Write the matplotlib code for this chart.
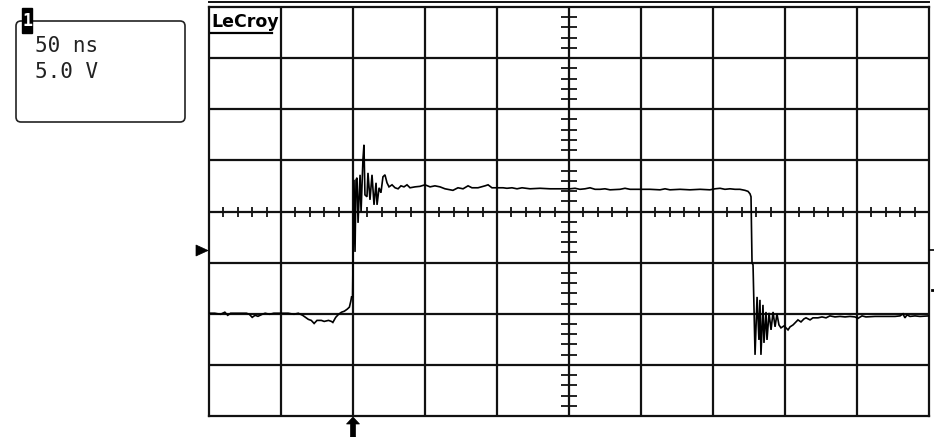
import matplotlib
matplotlib.use("Agg")
import matplotlib.pyplot as plt
from matplotlib.patches import FancyBboxPatch, Polygon, Rectangle
from matplotlib.lines import Line2D
from matplotlib.transforms import IdentityTransform
import numpy as np

# ---- data (time in ns from trigger, voltage in V) ----
time_ns = [
    -100, -96, -92, -89, -87, -85, -80, -74, -72, -70, -68, -66, -63, -61, -58, -55,
    -50, -45, -41, -38, -35, -33, -31, -29, -27, -25, -22, -20, -17, -15, -14, -12,
    -10, -8, -6, -4, -2.5, -1.5, -1, -0.3,
    0.7, 1.4, 2.1, 2.8, 3.5, 4.9, 5.6, 6.9, 7.6, 8.3, 9.7, 10.4, 11.8, 13.2, 14.6,
    16.0, 16.7, 18.1, 19.4, 20.8, 22.2, 23.6, 25.0, 27.1, 29.2, 31.3, 33.3, 35.4,
    37.5, 39.6, 43.1,
    46.5, 50.0, 53.5, 56.9, 60.4, 63.9, 69.4, 72.9, 76.4, 79.9, 82.6, 86.8, 91.7,
    93.8, 96.5, 100.0, 104.2, 106.9, 110.4, 113.9, 117.4, 122.9, 129.9, 136.8,
    143.7, 150.7, 154.2, 157.6, 161.1, 164.6, 168.1, 171.5, 175.0, 178.5, 185.4,
    188.9, 192.4, 199.3, 206.2, 213.2, 216.7, 220.1, 227.1, 234.0, 241.0, 247.9,
    251.4, 254.9, 258.3, 261.8, 265.3, 268.7, 272.2, 274.3, 275.7, 276.4, 277.1,
    277.8, 279.2, 280.6, 281.9, 282.6, 283.3, 284.7, 285.4, 286.8, 287.5, 288.9,
    290.3, 291.7, 293.1, 294.4, 295.8, 297.2, 299.3, 300.7, 302.1, 303.5, 305.6,
    307.6, 309.0, 311.1, 313.2, 314.6, 317.4, 319.4, 322.9, 325.7, 328.5,
    331.2, 334.7, 338.2, 341.7, 345.1, 348.6, 350.7, 353.5, 356.2, 362.5, 369.4,
    376.4, 379.9, 381.9, 383.3, 384.7, 386.8, 390.3, 393.7, 400,
]
volts = [
    -6.2, -6.2, -6.3, -6.1, -6.4, -6.2, -6.2, -6.2, -6.3, -6.6, -6.4, -6.5, -6.3, -6.2, -6.3, -6.2,
    -6.2, -6.2, -6.3, -6.2, -6.4, -6.6, -6.8, -6.9, -7.2, -6.9, -6.9, -7.0, -6.9, -7.0, -7.1, -6.6,
    -6.3, -6.1, -6.0, -5.8, -5.6, -5.0, -4.6, -4.6,
    6.85, -0.2, 6.85, 7.05, 2.64, 7.34, 3.72, 8.81, 10.27, 5.38, 5.19, 7.53, 4.89, 7.34, 4.40,
    6.56, 4.40, 6.07, 5.58, 7.14, 7.34, 6.56, 6.16, 6.36, 6.07, 5.97, 6.26, 6.16,
    6.36, 6.07, 6.16,
    6.21, 6.36, 6.16, 6.26, 6.16, 5.97, 5.82, 6.07, 5.97, 6.26, 6.07, 6.07, 6.26,
    6.36, 6.07, 6.07, 6.07, 6.02, 6.07, 5.97, 6.07, 5.97, 6.02, 5.97,
    5.97, 5.97, 6.02, 5.92, 5.97, 6.07, 5.92, 5.92, 5.97, 5.87, 5.92,
    6.02, 5.92, 5.92, 5.92, 5.87, 5.97, 5.87, 5.92, 5.87, 5.92, 5.87,
    5.97, 6.02, 5.92, 5.97, 5.92, 5.92, 5.82, 5.72, 5.48, 5.19, -1.27,
    -1.47, -10.27, -4.60, -8.81, -4.89, -10.27, -5.38, -9.10, -6.07, -8.81, -6.16,
    -7.83, -6.07, -7.53, -6.26, -7.34, -7.63, -7.44, -7.63, -7.83, -7.53, -7.34,
    -7.05, -6.85, -7.05, -6.75, -6.65, -6.85, -6.65, -6.65, -6.56, -6.65,
    -6.46, -6.56, -6.51, -6.56, -6.51, -6.56, -6.70, -6.46, -6.56, -6.51, -6.51,
    -6.51, -6.46, -6.26, -6.65, -6.36, -6.51, -6.46, -6.51, -6.46,
]

time_div_ns = 50
volt_div = 5
x_range = (-100, 400)
y_range = (-16.25, 23.75)
timebase_label = "50 ns"
vdiv_label = "5.0 V"
brand = "LeCroy"

W, H = 934, 437
fig = plt.figure(figsize=(W / 100, H / 100), dpi=100)
fig.patch.set_facecolor("white")

ax = fig.add_axes([209 / W, 1 - 416 / H, 720 / W, 409 / H])
ax.set_xlim(*x_range)
ax.set_ylim(*y_range)
ax.set_xticks([])
ax.set_yticks([])
for s in ax.spines.values():
    s.set_linewidth(1.6)
    s.set_color("#111111")

gc = "#111111"
xmaj = np.arange(x_range[0], x_range[1] + 1e-9, time_div_ns)
ymaj = np.arange(y_range[0], y_range[1] + 1e-9, volt_div)
for xv in xmaj[1:-1]:
    ax.axvline(xv, color=gc, lw=1.6, zorder=1)
for yv in ymaj[1:-1]:
    ax.axhline(yv, color=gc, lw=1.6, zorder=1)

xc = (x_range[0] + x_range[1]) / 2
yc = (y_range[0] + y_range[1]) / 2
xminor = [v for v in np.arange(x_range[0], x_range[1], time_div_ns / 5)
          if abs(((v - x_range[0]) / time_div_ns) - round((v - x_range[0]) / time_div_ns)) > 1e-6]
yminor = [v for v in np.arange(y_range[0], y_range[1], volt_div / 5)
          if abs(((v - y_range[0]) / volt_div) - round((v - y_range[0]) / volt_div)) > 1e-6]
ax.plot(xminor, [yc] * len(xminor), ls="none", marker="|", ms=7.5, mew=1.3, color=gc, zorder=1)
ax.plot([xc] * len(yminor), yminor, ls="none", marker="_", ms=11.5, mew=1.3, color=gc, zorder=1)

ax.plot(time_ns, volts, color="black", lw=1.2, zorder=3, solid_joinstyle="miter")

# brand label
ax.text(0.003, 0.985, brand, transform=ax.transAxes, ha="left", va="top",
        fontsize=12.5, fontweight="bold", family="DejaVu Sans", color="black", zorder=4)

px = IdentityTransform()
def P(x, y):
    return (x, H - y)

# top double line
fig.add_artist(Line2D([209, 929], [H - 2, H - 2], transform=px, color=gc, lw=1.4))
# underline of brand
fig.add_artist(Line2D([211, 272], [H - 33, H - 33], transform=px, color="black", lw=1.6))

# info box
box = FancyBboxPatch(P(16, 122), 169, 101, boxstyle="round,pad=0,rounding_size=5",
                     transform=px, fill=False, ec="#222222", lw=1.2)
fig.add_artist(box)
fig.add_artist(Rectangle(P(22, 33), 10, 25, transform=px, fc="black", ec="black"))
fig.text(27 / W, 1 - 21 / H, "1", ha="center", va="center", color="white",
         fontsize=12, fontweight="bold", family="DejaVu Sans Mono")
fig.text(35 / W, 1 - 46 / H, timebase_label, ha="left", va="center",
         fontsize=15, family="DejaVu Sans Mono", color="#222222")
fig.text(35 / W, 1 - 72.5 / H, vdiv_label, ha="left", va="center",
         fontsize=15, family="DejaVu Sans Mono", color="#222222")

# ground marker on the left
fig.add_artist(Polygon([P(196, 245), P(196, 256), P(208, 250.5)], closed=True,
                       transform=px, fc="black", ec="black", lw=0.5))
# trigger position arrow at the bottom
fig.add_artist(Polygon([P(350.5, 437), P(350.5, 424), P(346.5, 424), P(353, 417),
                        P(359.5, 424), P(355.5, 424), P(355.5, 437)], closed=True,
                       transform=px, fc="black", ec="black", lw=0.5))
# right-side small marks
fig.add_artist(Line2D([930, 934], [H - 250, H - 250], transform=px, color="black", lw=1.2))
fig.add_artist(Line2D([932, 934], [H - 290, H - 290], transform=px, color="black", lw=2))

fig.savefig("out.png", dpi=100, facecolor="white")
